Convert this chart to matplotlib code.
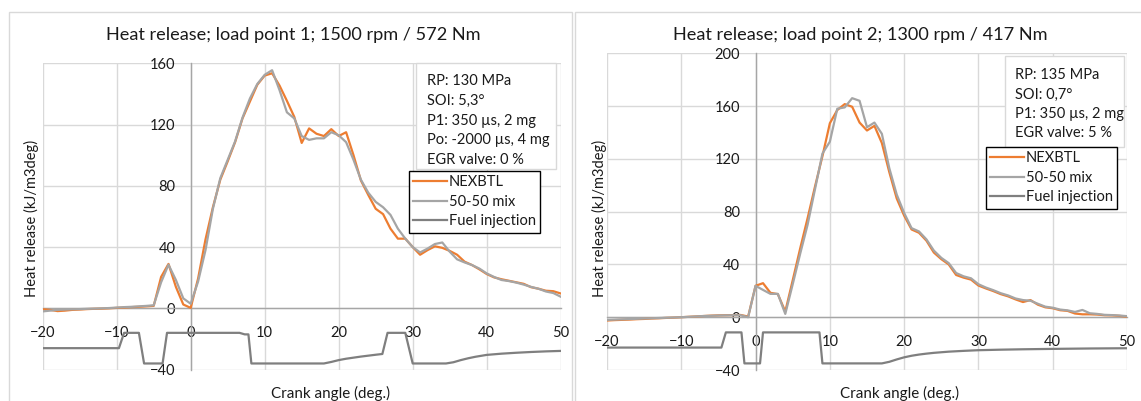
import matplotlib
matplotlib.use("Agg")
import matplotlib.pyplot as plt
from matplotlib.patches import Rectangle

plt.rcParams['font.family'] = ['Lato', 'DejaVu Sans']

W, H = 1141, 401

# ---- load point 1 ----
crank = list(range(-20, 51))
lp1_nexbtl = [-0.6, -1.0, -1.8, -1.5, -1.0, -0.8, -0.5, -0.3, -0.2, 0.0,
              0.3, 0.5, 0.8, 1.0, 1.3, 1.6, 20.5, 29.0, 14.0, 2.5,
              0.3, 19.5, 45.0, 66.0, 84.0, 96.0, 108.5, 124.0, 135.0, 146.0,
              152.0, 153.5, 145.5, 135.5, 125.0, 108.0, 117.5, 114.0, 112.5, 117.0,
              112.5, 115.0, 100.0, 83.5, 74.0, 65.0, 61.5, 52.0, 45.5, 45.5,
              40.0, 35.0, 38.0, 40.5, 39.5, 37.5, 35.0, 30.5, 28.3, 25.5,
              22.4, 20.2, 19.0, 18.0, 17.0, 16.0, 13.8, 12.8, 11.5, 11.2, 9.7]
lp1_mix = [-2.0, -1.5, -1.0, -0.8, -0.6, -0.5, -0.3, -0.2, 0.0, 0.2,
           0.5, 0.8, 1.0, 1.3, 1.6, 2.0, 17.0, 28.5, 18.5, 6.5,
           3.0, 17.5, 38.0, 65.0, 85.0, 97.0, 109.0, 124.5, 137.0, 146.5,
           152.5, 155.5, 142.5, 128.0, 124.0, 112.5, 110.0, 111.0, 111.0, 115.0,
           113.0, 108.5, 97.0, 84.0, 75.5, 69.5, 66.0, 61.0, 52.0, 45.5,
           40.0, 36.5, 39.0, 42.0, 43.0, 37.0, 32.0, 30.0, 28.3, 26.0,
           22.8, 20.5, 18.5, 17.8, 16.8, 15.5, 14.0, 12.8, 11.0, 10.0, 7.6]
lp1_inj_x = [-20, -9.7, -9.0, -7.0, -6.3, -3.8, -3.2, 6.6, 7.3, 7.8, 8.2,
             18.0, 19, 20, 21, 22, 23, 24, 25, 25.9, 26.6, 29.0, 30.0,
             34.5, 35.5, 36.5, 37.5, 38.5, 40, 42, 44, 46, 48, 50]
lp1_inj_y = [-26, -26, -16, -16, -36, -36, -16, -16, -17, -17, -36,
             -36, -35, -33.8, -32.9, -32.2, -31.5, -30.9, -30.3, -29.8, -16, -16, -36,
             -36, -35.2, -33.8, -32.6, -31.6, -30.4, -29.6, -29.0, -28.5, -28.1, -27.8]

# ---- load point 2 ----
lp2_nexbtl = [-2.5, -2.2, -2.0, -1.8, -1.5, -1.3, -1.0, -0.8, -0.5, -0.3,
              0.0, 0.3, 0.6, 0.9, 1.2, 1.4, 1.5, 1.6, 1.7, 0.5,
              23.8, 25.8, 18.5, 17.5, 4.3, 28.0, 52.0, 75.0, 99.0, 122.0,
              147.0, 157.0, 161.5, 159.5, 147.5, 141.5, 145.0, 132.0, 110.0, 90.0,
              77.0, 66.5, 64.0, 58.0, 49.0, 44.0, 40.0, 32.0, 30.0, 28.5,
              24.0, 21.8, 19.8, 17.5, 15.8, 13.5, 11.5, 13.0, 9.5, 7.5,
              6.8, 5.3, 4.8, 2.8, 2.2, 2.2, 2.0, 1.5, 1.4, 1.0, 0.4]
lp2_mix = [-2.0, -1.8, -1.6, -1.4, -1.2, -1.0, -0.8, -0.6, -0.4, -0.2,
           0.0, 0.3, 0.6, 0.9, 1.1, 1.3, 1.4, 1.5, 1.5, 0.0,
           23.8, 20.7, 17.7, 17.7, 2.5, 25.0, 48.0, 70.0, 97.0, 124.0,
           133.0, 158.0, 159.0, 166.0, 164.0, 144.0, 147.5, 139.0, 113.0, 93.0,
           79.0, 67.5, 65.0, 59.0, 50.5, 45.0, 41.0, 33.5, 31.0, 29.5,
           25.0, 22.5, 20.5, 18.2, 16.5, 14.2, 13.0, 12.5, 10.2, 8.0,
           7.2, 5.8, 5.2, 4.0, 5.5, 3.0, 2.5, 1.8, 1.6, 1.3, 0.8]
lp2_inj_x = [-20, -4.6, -4.0, -1.9, -1.5, 0.6, 1.0, 8.6, 9.0, 17.0,
             18, 19, 20, 21, 22, 23, 24, 26, 28, 30, 33, 36, 40, 45, 50]
lp2_inj_y = [-23, -23, -11.5, -11.5, -35, -35, -11.5, -11.5, -35, -35,
             -33.8, -32, -30.4, -29.2, -28.3, -27.6, -27, -26.1, -25.5, -25,
             -24.6, -24.3, -24, -23.7, -23.5]

series_names = ['NEXBTL', '50-50 mix', 'Fuel injection']
series_colors = ['#ED7D31', '#A5A5A5', '#7F7F7F']

x_ticks = list(range(-20, 51, 10))
lp1_yticks = list(range(-40, 161, 40))
lp2_yticks = list(range(-40, 201, 40))

lp1_title = 'Heat release; load point 1; 1500 rpm / 572 Nm'
lp2_title = 'Heat release; load point 2; 1300 rpm / 417 Nm'
lp1_notes = ['RP: 130 MPa', 'SOI: 5,3°', 'P1: 350 µs, 2 mg', 'Po: -2000 µs, 4 mg', 'EGR valve: 0 %']
lp2_notes = ['RP: 135 MPa', 'SOI: 0,7°', 'P1: 350 µs, 2 mg', 'EGR valve: 5 %']
x_label = 'Crank angle (deg.)'
y_label = 'Heat release (kJ/m3deg)'

GRID = '#D9D9D9'
AXIS = '#A6A6A6'
TXT = '#1A1A1A'
FS = 10.5

fig = plt.figure(figsize=(W / 100, H / 100), dpi=100)


def fx(px):
    return px / W


def fy(py):
    return 1 - py / H


def axes_box(x0, y0, x1, y1):
    return [fx(x0), fy(y1), fx(x1) - fx(x0), fy(y0) - fy(y1)]


# chart area borders
for (x0, y0, x1, y1) in [(9, 12, 572, 405), (575, 12, 1145, 405)]:
    fig.add_artist(Rectangle((fx(x0), fy(y1)), fx(x1) - fx(x0), fy(y0) - fy(y1),
                             transform=fig.transFigure, fill=False,
                             edgecolor=GRID, lw=1.0))


def draw_panel(box, heat_a, heat_b, inj_x, inj_y, yticks, title, title_xy,
               notes, note_box, note_x, note_y0, note_dy, leg_anchor, xlab_xy, ylab_xy):
    ax = fig.add_axes(axes_box(*box))
    ax.set_xlim(-20, 50)
    ax.set_ylim(yticks[0], yticks[-1])
    ax.set_xticks(x_ticks)
    ax.set_yticks(yticks)
    ax.grid(True, color=GRID, lw=1.0)
    ax.set_axisbelow(True)
    for s in ['top', 'right']:
        ax.spines[s].set_visible(False)
    ax.spines['left'].set_position(('data', 0))
    ax.spines['bottom'].set_position(('data', 0))
    for s in ['left', 'bottom']:
        ax.spines[s].set_color(AXIS)
        ax.spines[s].set_linewidth(1.0)
        ax.spines[s].set_zorder(1.5)
    ax.tick_params(axis='both', length=0, labelsize=FS, colors=TXT)
    ax.tick_params(axis='x', pad=12.5)
    ax.tick_params(axis='y', pad=11)
    ax.set_facecolor('none')

    l1, = ax.plot(crank, heat_a, color=series_colors[0], lw=1.6, zorder=3)
    l2, = ax.plot(crank, heat_b, color=series_colors[1], lw=1.6, zorder=3)
    l3, = ax.plot(inj_x, inj_y, color=series_colors[2], lw=1.6, zorder=3)

    fig.text(fx(title_xy[0]), fy(title_xy[1]), title, ha='center', va='center',
             fontsize=13.1, color=TXT)
    fig.text(fx(xlab_xy[0]), fy(xlab_xy[1]), x_label, ha='center', va='center',
             fontsize=FS + 0.4, color=TXT)
    fig.text(fx(ylab_xy[0]), fy(ylab_xy[1]), y_label, ha='center', va='center',
             rotation=90, fontsize=FS, color=TXT)

    # annotation box
    x0, y0, x1, y1 = note_box
    ax.add_patch(Rectangle((fx(x0), fy(y1)), fx(x1) - fx(x0), fy(y0) - fy(y1),
                           transform=fig.transFigure, facecolor='white',
                           edgecolor=GRID, lw=1.0, zorder=6, clip_on=False))
    for i, t in enumerate(notes):
        ax.text(fx(note_x), fy(note_y0 + i * note_dy), t, transform=fig.transFigure,
                ha='left', va='center', fontsize=FS, color=TXT, zorder=7,
                clip_on=False)

    leg = ax.legend([l1, l2, l3], series_names, loc='upper left',
                    bbox_to_anchor=(fx(leg_anchor[0]), fy(leg_anchor[1])),
                    bbox_transform=fig.transFigure, borderaxespad=0,
                    fontsize=FS, frameon=True, fancybox=False,
                    handlelength=2.3, handletextpad=0.15, borderpad=0.3,
                    labelspacing=0.38)
    leg.get_frame().set_edgecolor('black')
    leg.get_frame().set_linewidth(1.0)
    leg.get_frame().set_alpha(1)
    for t in leg.get_texts():
        t.set_color(TXT)
    leg.set_zorder(10)
    return ax


draw_panel((42.7, 63.3, 560.7, 369.6), lp1_nexbtl, lp1_mix, lp1_inj_x, lp1_inj_y,
           lp1_yticks, lp1_title, (293, 35), lp1_notes, (416, 63, 556, 169),
           427, 81, 19.8, (409, 171), (331, 393), (31, 218))
draw_panel((607, 53.3, 1127, 370), lp2_nexbtl, lp2_mix, lp2_inj_x, lp2_inj_y,
           lp2_yticks, lp2_title, (860, 35), lp2_notes, (1005, 56, 1124, 147),
           1015, 75, 19.4, (986, 147), (899, 393), (599, 218))

fig.savefig('out.png', dpi=100)
